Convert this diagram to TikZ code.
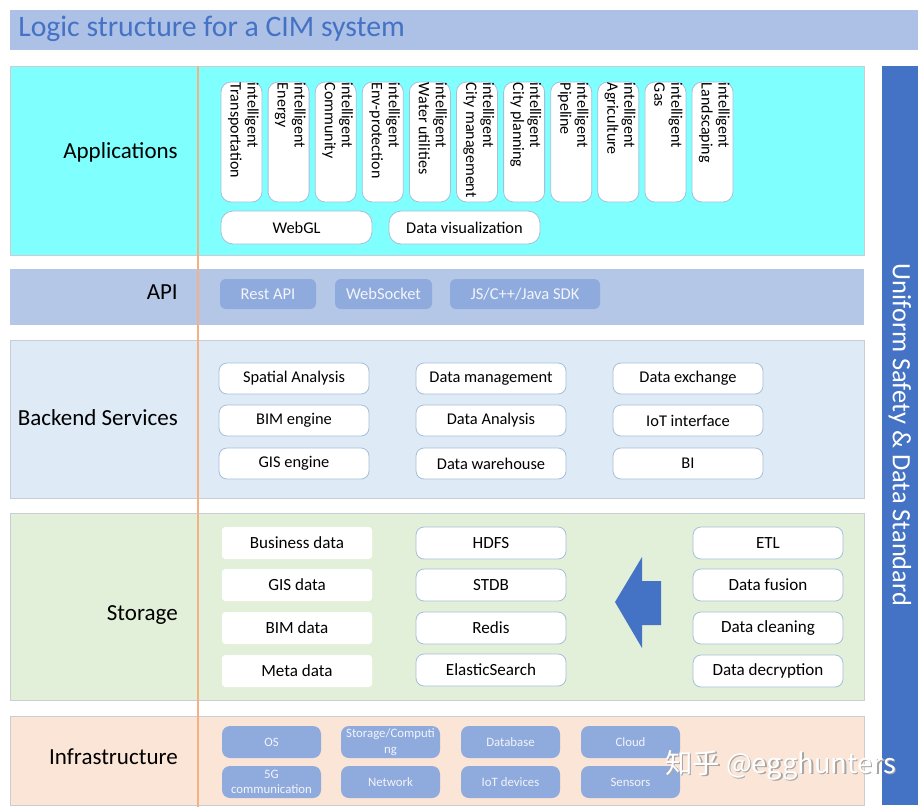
\documentclass[tikz,border=0pt]{standalone}
\usepackage{fontspec}
\setmainfont{Carlito}
\newfontfamily\cjk{Noto Sans CJK SC}
\definecolor{titlebar}{HTML}{ADC0E6}
\definecolor{titletext}{HTML}{4472C4}
\definecolor{appband}{HTML}{80FFFF}
\definecolor{apiband}{HTML}{B4C7E7}
\definecolor{backband}{HTML}{DEEBF7}
\definecolor{storband}{HTML}{E2F0D9}
\definecolor{infraband}{HTML}{FBE5D6}
\definecolor{bandline}{HTML}{C9CED6}
\definecolor{boxline}{HTML}{A7BED8}
\definecolor{midblue}{HTML}{8FAADC}
\definecolor{darkblue}{HTML}{4472C4}
\definecolor{orangeline}{HTML}{F4B183}
\definecolor{softwhite}{HTML}{F2F5FB}
\tikzset{
  band/.style={draw=bandline, line width=0.6pt},
  layerlabel/.style={anchor=east, inner sep=0pt, font=\fontsize{17.25}{20}\selectfont},
  appbox/.style={draw=boxline, fill=white, line width=0.6pt, rounded corners=7.5pt,
    minimum width=30.75pt, minimum height=90pt, inner sep=0pt},
  apptext/.style={rotate=-90, anchor=north west, align=left, inner sep=0pt,
    font=\fontsize{12}{12.75}\selectfont},
  widebox/.style={draw=boxline, fill=white, line width=0.6pt, rounded corners=9pt,
    minimum width=113.25pt, minimum height=24.75pt, inner sep=0pt,
    font=\fontsize{12.3}{14}\selectfont},
  apibox/.style={fill=midblue, rounded corners=4.5pt, minimum height=22.5pt, inner sep=0pt,
    text=softwhite, font=\fontsize{12.4}{14}\selectfont},
  backbox/.style={draw=boxline, fill=white, line width=0.6pt, rounded corners=6pt,
    minimum width=112.5pt, minimum height=23.25pt, inner sep=0pt,
    font=\fontsize{12.3}{14}\selectfont},
  plainbox/.style={fill=white, rounded corners=2.5pt,
    minimum width=112.5pt, minimum height=24pt, inner sep=0pt,
    font=\fontsize{12.8}{14}\selectfont},
  storbox/.style={draw=boxline, fill=white, line width=0.6pt, rounded corners=6pt,
    minimum width=112.5pt, minimum height=24pt, inner sep=0pt,
    font=\fontsize{12.8}{14}\selectfont},
  infrabox/.style={fill=midblue, rounded corners=6pt,
    minimum width=74.25pt, minimum height=24pt, inner sep=0pt, align=center,
    text=softwhite, font=\fontsize{9.6}{11.5}\selectfont},
}
\begin{document}
\begin{tikzpicture}[x=0.75pt,y=-0.75pt]
\useasboundingbox (0,0) rectangle (924,807);
% title
\fill[titlebar] (10,10) rectangle (918,50);
\node[anchor=west, inner sep=0pt, text=titletext, font=\fontsize{22.3}{26}\selectfont] (title) at (18,29) {Logic structure for a CIM system};
% bands
\draw[band, fill=appband] (10,66) rectangle (864,255);
\draw[band, fill=apiband, draw=none] (10,269) rectangle (864,325);
\draw[band, fill=backband] (10,340) rectangle (864,498);
\draw[band, fill=storband] (10,513) rectangle (864,700);
\draw[band, fill=infraband] (10,716) rectangle (864,805);
\fill[darkblue] (882,66) rectangle (918,805);
% orange divider
\coordinate (ltop) at (198,66);
\coordinate (lbot) at (198,807);
\draw[orangeline, line width=1.2pt] (ltop) -- (lbot);
% layer labels
\node[layerlabel] (lapp) at (178,152) {Applications};
\node[layerlabel] (lapi) at (178,292) {API};
\node[layerlabel] (lback) at (178,418) {Backend Services};
\node[layerlabel] (lstor) at (178,615) {Storage};
\node[layerlabel] (linfra) at (178,757) {Infrastructure};
% applications
\foreach \i/\t in {0/Transportation,1/Energy,2/Community,3/Env-protection,4/Water utilities,5/City management,6/City planning,7/Pipeline,8/Agriculture,9/Gas,10/Landscaping}{
  \node[appbox] (app\i) at ({241.5+47.1*\i},142) {};
  \node[apptext] (appt\i) at ([xshift=-2.6pt,yshift=-0.8pt]app\i.north east) {intelligent\\\t};
}
\node[widebox] (webgl) at (296.5,227.5) {WebGL};
\node[widebox] (dvis) at (464.5,227.5) {Data visualization};
% API
\node[apibox, minimum width=72pt] (rest) at (268,294) {Rest API};
\node[apibox, minimum width=72.75pt] (wsock) at (383.5,294) {WebSocket};
\node[apibox, minimum width=112.5pt] (sdk) at (525,294) {JS/C++/Java SDK};
% backend
\node[backbox] (b11) at (294,378.5) {Spatial Analysis};
\node[backbox] (b12) at (491,378.5) {Data management};
\node[backbox] (b13) at (688,378.5) {Data exchange};
\node[backbox] (b21) at (294,420.5) {BIM engine};
\node[backbox] (b22) at (491,420.5) {Data Analysis};
\node[backbox] (b23) at (688,420.5) {IoT interface};
\node[backbox] (b31) at (294,463.5) {GIS engine};
\node[backbox] (b32) at (491,463.5) {Data warehouse};
\node[backbox] (b33) at (688,463.5) {BI};
% storage
\node[plainbox] (s11) at (297,543) {Business data};
\node[plainbox] (s21) at (297,585) {GIS data};
\node[plainbox] (s31) at (297,628) {BIM data};
\node[plainbox] (s41) at (297,671) {Meta data};
\node[storbox] (s12) at (491,543) {HDFS};
\node[storbox] (s22) at (491,585) {STDB};
\node[storbox] (s32) at (491,628) {Redis};
\node[storbox] (s42) at (491,670) {ElasticSearch};
\node[storbox] (s13) at (768,543) {ETL};
\node[storbox] (s23) at (768,585) {Data fusion};
\node[storbox] (s33) at (768,628) {Data cleaning};
\node[storbox] (s43) at (768,671) {Data decryption};
\fill[darkblue] (615,602) -- (642,557) -- (642,581) -- (661,581) -- (661,625) -- (642,625) -- (642,648) -- cycle;
% infrastructure
\node[infrabox] (i11) at (271.5,742) {OS};
\node[infrabox] (i12) at (390.5,742) {Storage/Computi\\ng};
\node[infrabox] (i13) at (510.5,742) {Database};
\node[infrabox] (i14) at (630.5,742) {Cloud};
\node[infrabox] (i21) at (271.5,782) {5G\\communication};
\node[infrabox] (i22) at (390.5,782) {Network};
\node[infrabox] (i23) at (510.5,782) {IoT devices};
\node[infrabox] (i24) at (630.5,782) {Sensors};
% right bar text
\node[rotate=-90, text=white, inner sep=0pt, font=\fontsize{19.8}{22}\selectfont] (uniform) at (900,435) {Uniform Safety \& Data Standard};
% watermark
\node[anchor=west, inner sep=0pt, text=gray!70, font=\cjk\fontsize{20.5}{24}\selectfont] (wmshadow) at (666.5,766.5) {知乎 @egghunters};
\node[anchor=west, inner sep=0pt, text=white, font=\cjk\fontsize{20.5}{24}\selectfont] (wm) at (665,765) {知乎 @egghunters};
\end{tikzpicture}
\end{document}
